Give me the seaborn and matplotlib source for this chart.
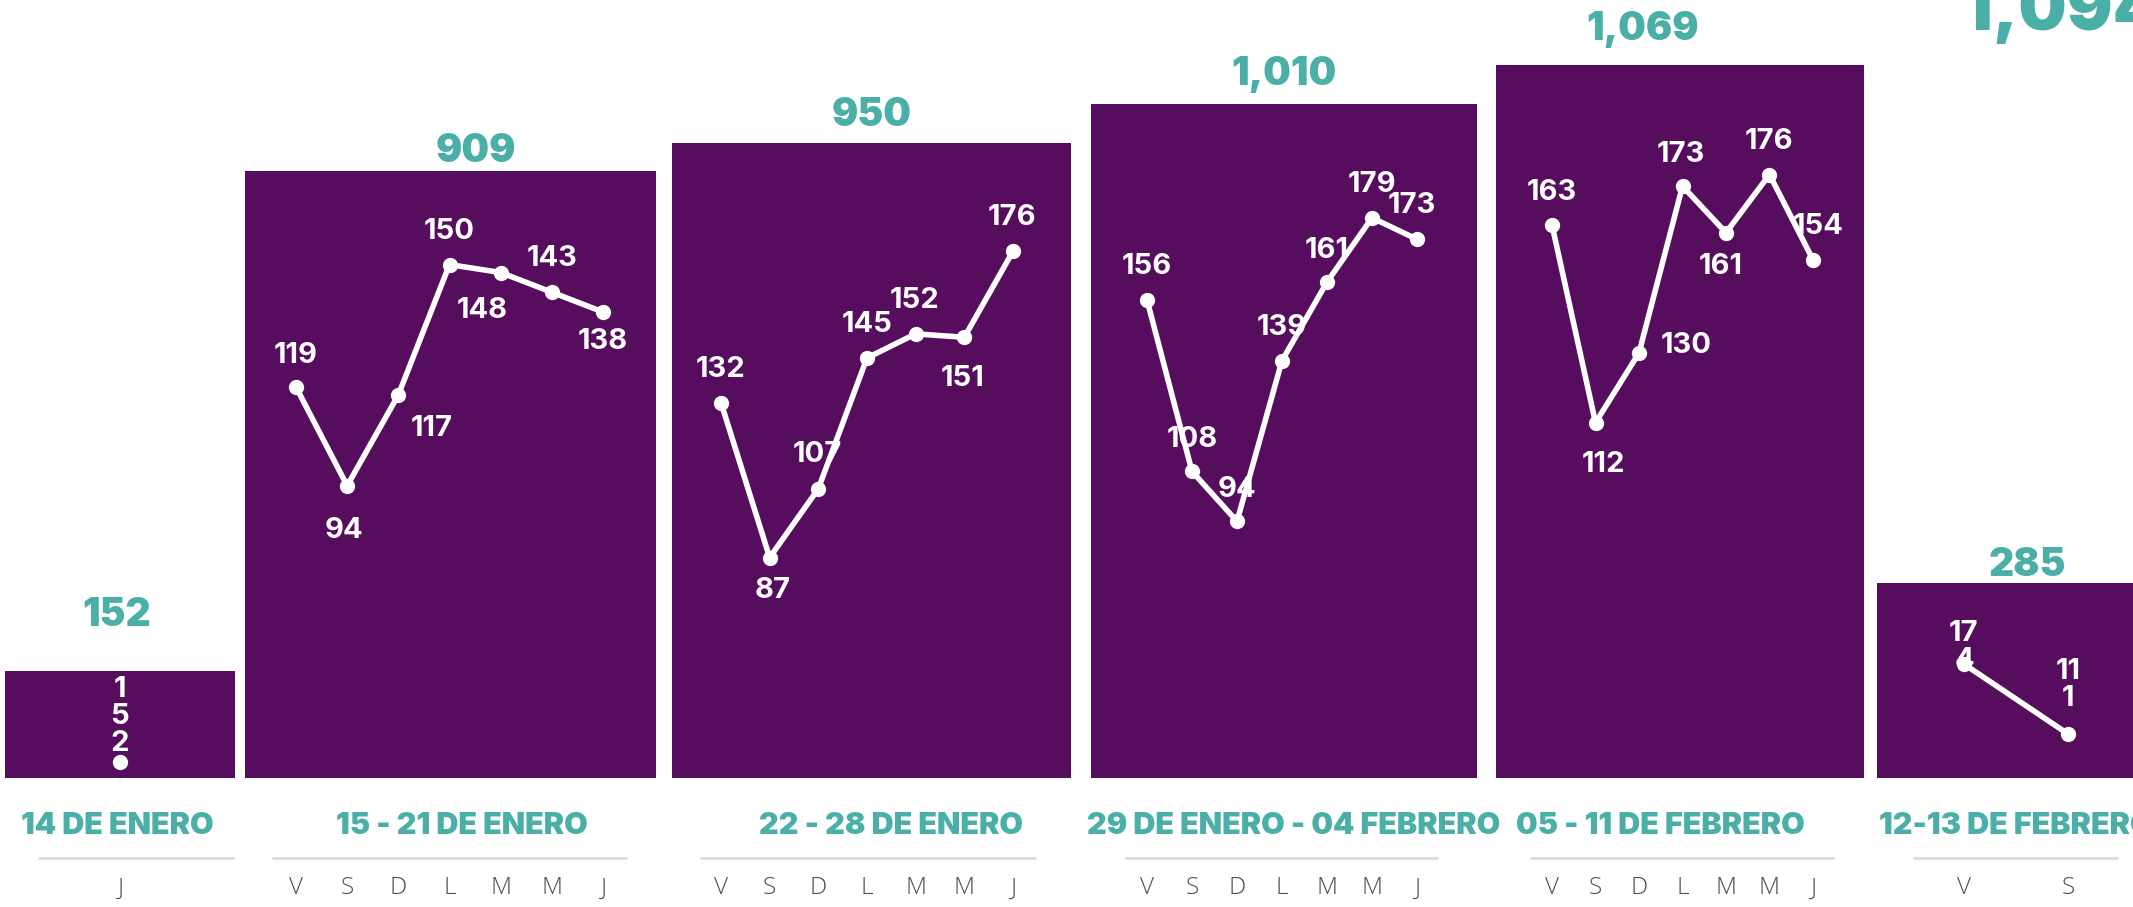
import textwrap
import numpy as np
import matplotlib
matplotlib.use('Agg')
import matplotlib.pyplot as plt
import seaborn as sns

# ---- data -------------------------------------------------------------
week_names = ['14 DE ENERO', '15 - 21 DE ENERO', '22 - 28 DE ENERO',
              '29 DE ENERO - 04 FEBRERO', '05 - 11 DE FEBRERO', '12-13 DE FEBRERO']
week_totals = [152, 909, 950, 1010, 1069, 285]
next_week_total = 1094

days_14 = ['J']
daily_14 = [152]
days_15_21 = ['V', 'S', 'D', 'L', 'M', 'M', 'J']
daily_15_21 = [119, 94, 117, 150, 148, 143, 138]
days_22_28 = ['V', 'S', 'D', 'L', 'M', 'M', 'J']
daily_22_28 = [132, 87, 107, 145, 152, 151, 176]
days_29_04 = ['V', 'S', 'D', 'L', 'M', 'M', 'J']
daily_29_04 = [156, 108, 94, 139, 161, 179, 173]
days_05_11 = ['V', 'S', 'D', 'L', 'M', 'M', 'J']
daily_05_11 = [163, 112, 130, 173, 161, 176, 154]
days_12_13 = ['V', 'S']
daily_12_13 = [174, 111]

week_days = [days_14, days_15_21, days_22_28, days_29_04, days_05_11, days_12_13]
week_daily = [daily_14, daily_15_21, daily_22_28, daily_29_04, daily_05_11, daily_12_13]

# ---- layout (pixels of the 2133x907 canvas) ----------------------------
W, H = 2133, 907
BASE = 772          # value 0 of the weekly bars
PPC = 0.6617        # pixels per count for the weekly bars
BAR_FLOOR = 778     # bars are drawn down to here
LINE_ZERO = 857     # where the daily lines' zero sits

bar_left = [5, 245, 672, 1091, 1496, 1877]
bar_width = [230, 411, 399, 386, 368, 300]
total_dx = [-3, 25, 0, 0, -37, 0]
total_dy = [40, 14, 20, 21, 25, 13]
day_x0 = [120, 296, 721, 1147, 1552, 1964]
day_x1 = [120, 603, 1013, 1417, 1813, 2068]
line_ymax = [1370, 217, 249, 240, 221, 773]
label_wrap = [1, 9, 9, 9, 9, 2]
label_off = [
    [(0, 33)],
    [(0, 23), (-2, -32), (24, -24), (0, 24), (-13, -27), (0, 24), (0, -21)],
    [(0, 24), (2, -24), (-1, 25), (0, 24), (-1, 24), (-1, -30), (-1, 24)],
    [(0, 24), (0, 23), (0, 23), (0, 24), (0, 23), (0, 24), (-4, 24)],
    [(0, 23), (6, -30), (34, 5), (-1, 23), (-4, -24), (0, 24), (4, 24)],
    [(0, 12), (0, 35)],
]
rule_x0 = [38, 272, 700, 1125, 1530, 1913]
rule_x1 = [234, 627, 1036, 1438, 1834, 2118]
name_x = [117, 462, 891, 1294, 1660, 2016]

PURPLE = '#560d5e'
TEAL = '#4aafa7'
RULE = '#dcdcdc'
DAYC = '#4d4d4d'

sns.set_theme(style='white')
plt.rcParams['font.family'] = ['Inter', 'DejaVu Sans']

fig = plt.figure(figsize=(W / 100, H / 100), dpi=100)
fig.patch.set_facecolor('white')
ax = fig.add_axes([0, 0, 1, 1])
ax.set_xlim(0, W)
ax.set_ylim(-(H - BASE) / PPC, BASE / PPC)
ax.axis('off')

# weekly bars
drop = (BAR_FLOOR - BASE) / PPC
ax.bar(bar_left, np.array(week_totals) + drop, bottom=-drop, width=bar_width,
       align='edge', color=PURPLE, linewidth=0)
for i, t in enumerate(week_totals):
    ax.annotate(f'{t:,}', (bar_left[i] + bar_width[i] / 2 + total_dx[i], t),
                xytext=(0, total_dy[i]), textcoords='offset points', ha='center',
                va='center', fontsize=28, fontweight=900, color=TEAL)

# week names and rules
for i, name in enumerate(week_names):
    fig.text(name_x[i] / W, 1 - 826 / H, name, ha='center', va='center',
             fontsize=22, fontweight=900, color=TEAL)
    ax.hlines((BASE - 858) / PPC, rule_x0[i], rule_x1[i], color=RULE, linewidth=2)

fig.text(1962 / W, 1 - 30 / H, f'{next_week_total:,}', ha='left', va='baseline',
         fontsize=49, fontweight=900, color=TEAL)

# daily lines inside each bar
for i, (days, vals) in enumerate(zip(week_days, week_daily)):
    n = len(days)
    if n == 1:
        x0, wd = day_x0[i] - 10, 20
    else:
        x0, wd = day_x0[i], day_x1[i] - day_x0[i]
    iax = fig.add_axes([x0 / W, 1 - LINE_ZERO / H, wd / W, LINE_ZERO / H])
    iax.patch.set_visible(False)
    sns.lineplot(x=np.arange(n), y=vals, ax=iax, color='white', linewidth=4,
                 marker='o', markersize=11, markeredgewidth=0, clip_on=False)
    iax.set_ylim(0, line_ymax[i])
    if n == 1:
        iax.set_xlim(-0.5, 0.5)
    else:
        iax.set_xlim(0, n - 1)
    iax.set_xticks(range(n))
    iax.set_xticklabels(days, fontsize=17.5, color=DAYC, fontweight='light',
                        family=['Open Sans', 'DejaVu Sans'])
    iax.tick_params(axis='x', length=0, pad=14)
    iax.set_yticks([])
    iax.set_xlabel('')
    iax.set_ylabel('')
    for s in iax.spines.values():
        s.set_visible(False)
    for j, v in enumerate(vals):
        txt = '\n'.join(textwrap.wrap(str(v), label_wrap[i]))
        iax.annotate(txt, (j, v), xytext=label_off[i][j], textcoords='offset points',
                     ha='center', va='center', fontsize=21, fontweight='bold',
                     color='white', linespacing=1.0, annotation_clip=False)

fig.savefig('out.png', dpi=100)
